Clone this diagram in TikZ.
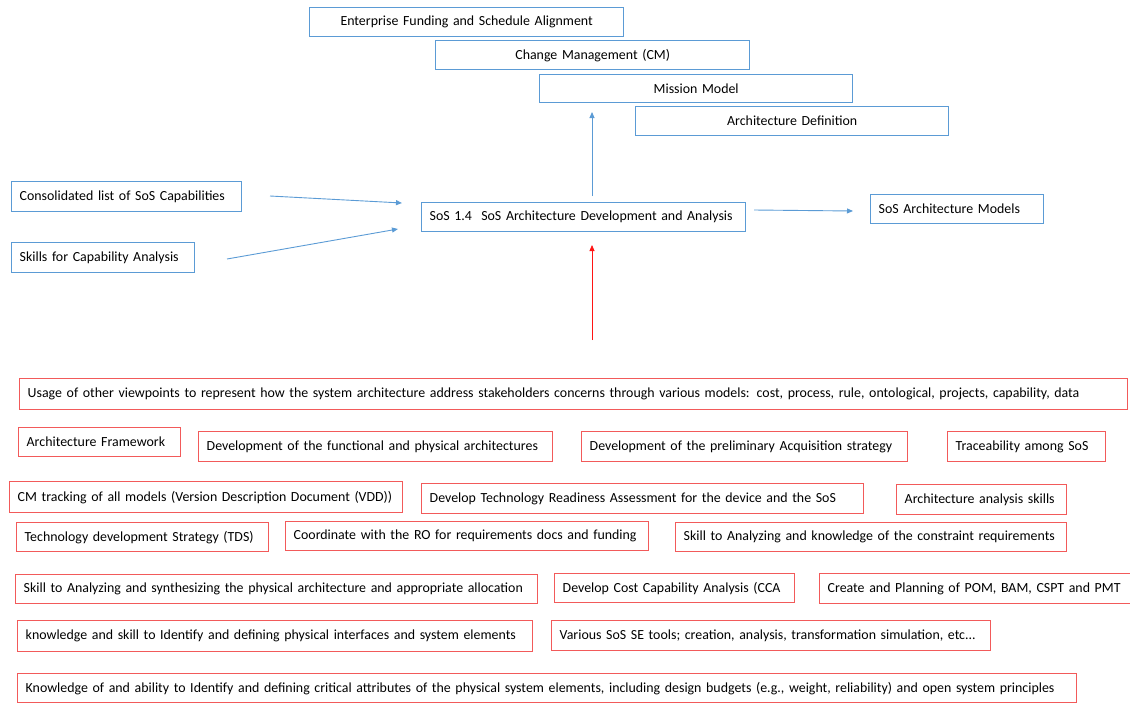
\documentclass[tikz,border=0pt]{standalone}
\usepackage{fontspec}
\setmainfont{Carlito}
\usetikzlibrary{arrows.meta}
\definecolor{boxblue}{RGB}{91,155,213}
\definecolor{boxred}{RGB}{242,90,90}
\definecolor{arrred}{RGB}{255,20,20}
\tikzset{
  bluebox/.style={draw=boxblue, line width=1.4pt, fill=white, inner ysep=0pt, inner xsep=8pt, font=\fontsize{13.9}{15}\selectfont},
  redbox/.style={draw=boxred, line width=1.4pt, fill=white, inner ysep=0pt, inner xsep=8pt, font=\fontsize{13.9}{15}\selectfont},
  bluearrow/.style={draw=boxblue, line width=0.9pt, -{Triangle[length=6pt,width=5pt]}},
  redarrow/.style={draw=arrred, line width=0.8pt, -{Triangle[length=6pt,width=5pt]}},
}
% box with corners (x1,y1)-(x2,y2) in pixel units: style, name, x1, y1, x2, y2, alignment, text
\newcommand\pbox[8]{%
  \pgfmathsetmacro\bxw{#5-#3}%
  \pgfmathsetmacro\bxh{#6-#4}%
  \pgfmathsetmacro\bxt{#5-#3-16}%
  \node[#1, anchor=north west, minimum width=\bxw pt, minimum height=\bxh pt,
        text width=\bxt pt, align=#7] (#2) at (#3,#4) {\mbox{#8}};%
}
\begin{document}
\begin{tikzpicture}[x=1pt,y=-1pt]
\useasboundingbox (0,0) rectangle (1130,702);

% stacked top boxes
\pbox{bluebox}{efsa}{309}{7}{623}{36}{center}{Enterprise Funding and Schedule Alignment}
\pbox{bluebox}{cm}{435}{40}{749}{69}{center}{Change Management (CM)}
\pbox{bluebox}{mm}{539}{74}{852}{102}{center}{Mission Model}
\pbox{bluebox}{ad}{635}{106}{948}{135}{center}{Architecture Definition}

% inputs, activity, output
\pbox{bluebox}{cons}{11}{181}{241}{211}{left}{Consolidated list of SoS Capabilities}
\pbox{bluebox}{skills}{11}{242}{194}{272}{left}{Skills for Capability Analysis}
\pbox{bluebox}{act}{421}{202}{745}{231}{left}{SoS 1.4\ \ SoS Architecture Development and Analysis}
\pbox{bluebox}{out}{870}{194}{1043}{223}{left}{SoS Architecture Models}

% connectors
\coordinate (c1s) at (270,196); \coordinate (c1e) at (402,203);
\coordinate (c2s) at (227,259); \coordinate (c2e) at (398,229);
\coordinate (c3s) at (754,210); \coordinate (c3e) at (853,211);
\coordinate (c4s) at (592,196); \coordinate (c4e) at (592,112);
\coordinate (c5s) at (592,340); \coordinate (c5e) at (592,245);
\draw[bluearrow] (c1s) -- (c1e);
\draw[bluearrow] (c2s) -- (c2e);
\draw[bluearrow] (c3s) -- (c3e);
\draw[bluearrow] (c4s) -- (c4e);
\draw[redarrow] (c5s) -- (c5e);

% mechanisms / enablers
\pbox{redbox}{r1}{19}{378}{1127}{409}{left}{Usage of other viewpoints to represent how the system architecture address stakeholders concerns through various models: cost, process, rule, ontological, projects, capability, data}
\pbox{redbox}{r2}{18}{427}{180}{456}{left}{Architecture Framework}
\pbox{redbox}{r3}{198}{431}{552}{461}{left}{Development of the functional and physical architectures}
\pbox{redbox}{r4}{581}{431}{907}{461}{left}{Development of the preliminary Acquisition strategy}
\pbox{redbox}{r5}{947}{431}{1105}{461}{left}{Traceability among SoS}
\pbox{redbox}{r6}{9}{481}{402}{512}{left}{CM tracking of all models (Version Description Document (VDD))}
\pbox{redbox}{r7}{421}{483}{863}{513}{left}{Develop Technology Readiness Assessment for the device and the SoS}
\pbox{redbox}{r8}{896}{484}{1066}{514}{left}{Architecture analysis skills}
\pbox{redbox}{r9}{16}{522}{268}{551}{left}{Technology development Strategy (TDS)}
\pbox{redbox}{r10}{285}{521}{648}{550}{left}{Coordinate with the RO for requirements docs and funding}
\pbox{redbox}{r11}{675}{522}{1066}{551}{left}{Skill to Analyzing and knowledge of the constraint requirements}
\pbox{redbox}{r12}{15}{574}{537}{603}{left}{Skill to Analyzing and synthesizing the physical architecture and appropriate allocation}
\pbox{redbox}{r13}{554}{573}{794}{602}{left}{Develop Cost Capability Analysis (CCA}
\pbox{redbox}{r14}{819}{573}{1130}{603}{left}{Create and Planning of POM, BAM, CSPT and PMT}
\pbox{redbox}{r15}{17}{620}{532}{651}{left}{knowledge and skill to Identify and defining physical interfaces and system elements}
\pbox{redbox}{r16}{551}{620}{990}{650}{left}{Various SoS SE tools; creation, analysis, transformation simulation, etc...}
\pbox{redbox}{r17}{17}{673}{1076}{702}{left}{Knowledge of and ability to Identify and defining critical attributes of the physical system elements, including design budgets (e.g., weight, reliability) and open system principles}
\end{tikzpicture}
\end{document}
